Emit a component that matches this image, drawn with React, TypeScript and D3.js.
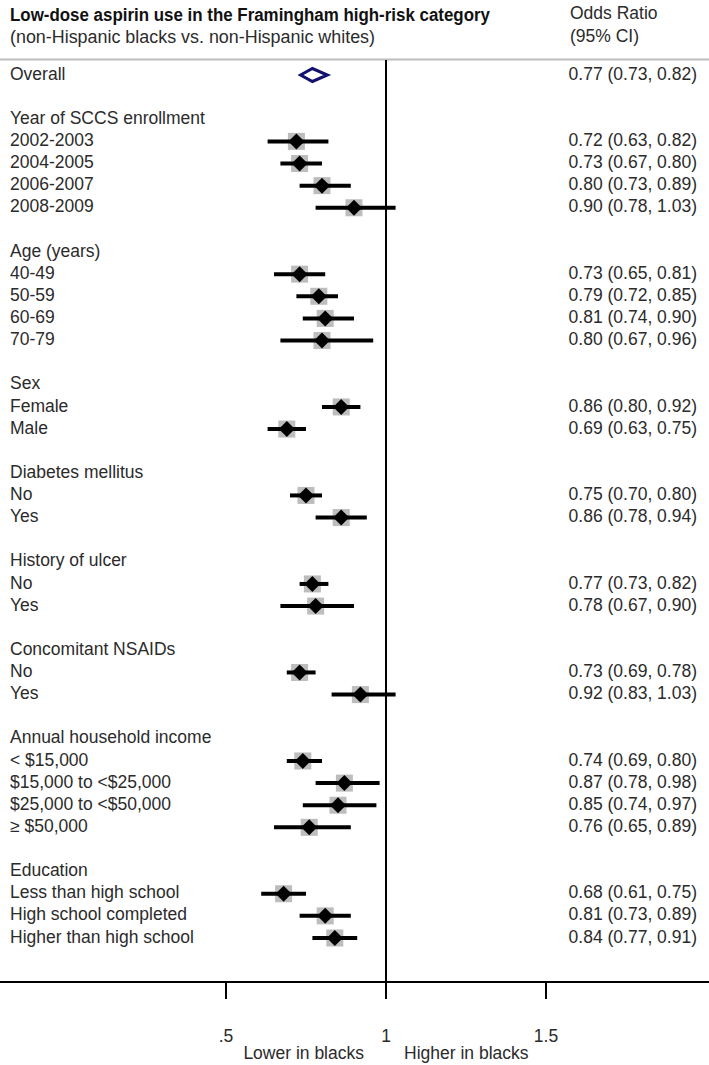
import React from "react";
import * as d3 from "d3";

const labels = [
  "Overall", "",
  "Year of SCCS enrollment", "2002-2003", "2004-2005", "2006-2007", "2008-2009", "",
  "Age (years)", "40-49", "50-59", "60-69", "70-79", "",
  "Sex", "Female", "Male", "",
  "Diabetes mellitus", "No", "Yes", "",
  "History of ulcer", "No", "Yes", "",
  "Concomitant NSAIDs", "No", "Yes", "",
  "Annual household income", "< $15,000", "$15,000 to <$25,000", "$25,000 to <$50,000", "\u2265 $50,000", "",
  "Education", "Less than high school", "High school completed", "Higher than high school",
];
const or: (number | null)[] = [
  0.77, null,
  null, 0.72, 0.73, 0.80, 0.90, null,
  null, 0.73, 0.79, 0.81, 0.80, null,
  null, 0.86, 0.69, null,
  null, 0.75, 0.86, null,
  null, 0.77, 0.78, null,
  null, 0.73, 0.92, null,
  null, 0.74, 0.87, 0.85, 0.76, null,
  null, 0.68, 0.81, 0.84,
];
const lo: (number | null)[] = [
  0.73, null,
  null, 0.63, 0.67, 0.73, 0.78, null,
  null, 0.65, 0.72, 0.74, 0.67, null,
  null, 0.80, 0.63, null,
  null, 0.70, 0.78, null,
  null, 0.73, 0.67, null,
  null, 0.69, 0.83, null,
  null, 0.69, 0.78, 0.74, 0.65, null,
  null, 0.61, 0.73, 0.77,
];
const hi: (number | null)[] = [
  0.82, null,
  null, 0.82, 0.80, 0.89, 1.03, null,
  null, 0.81, 0.85, 0.90, 0.96, null,
  null, 0.92, 0.75, null,
  null, 0.80, 0.94, null,
  null, 0.82, 0.90, null,
  null, 0.78, 1.03, null,
  null, 0.80, 0.98, 0.97, 0.89, null,
  null, 0.75, 0.89, 0.91,
];
const xTicks = [0.5, 1, 1.5];
const xTickLabels = [".5", "1", "1.5"];

const W = 709;
const H = 1065;
const FONT = "'Liberation Sans', Arial, sans-serif";
const FS = 17.5;

export default function App() {
  const x = d3.scaleLinear().domain([0.5, 1.5]).range([226, 546]);
  const y = d3.scaleLinear().domain([0, labels.length - 1]).range([75, 938]);
  const axisY = 982;
  const fmt = d3.format(".2f");
  const txt = "#2b2b2b";

  return (
    <svg width={W} height={H} style={{ position: "absolute", left: 0, top: 0, background: "#fff" }} fontFamily={FONT}>
      <rect x={0} y={0} width={W} height={H} fill="#fff" />
      {/* header */}
      <text x={10} y={16} fontSize={17.5} fontWeight="bold" fill="#111" dominantBaseline="middle" textLength={480} lengthAdjust="spacingAndGlyphs">
        Low-dose aspirin use in the Framingham high-risk category
      </text>
      <text x={10} y={38} fontSize={FS} fill={txt} dominantBaseline="middle" textLength={365} lengthAdjust="spacingAndGlyphs">
        (non-Hispanic blacks vs. non-Hispanic whites)
      </text>
      <text x={570} y={14} fontSize={FS} fill={txt} dominantBaseline="middle">Odds Ratio</text>
      <text x={570} y={37} fontSize={FS} fill={txt} dominantBaseline="middle">(95% CI)</text>
      <line x1={0} x2={W} y1={59.5} y2={59.5} stroke="#bdbdbd" strokeWidth={2} />

      {/* reference line */}
      <line x1={x(1)} x2={x(1)} y1={60} y2={axisY} stroke="#000" strokeWidth={2} />

      {labels.map((lab, i) => {
        if (lab === "") return null;
        const yy = y(i);
        return (
          <g key={i}>
            <text x={10} y={yy} fontSize={FS} fill={txt} dominantBaseline="middle">{lab}</text>
            {or[i] !== null && (
              <text x={697} y={yy} fontSize={FS} fill={txt} dominantBaseline="middle" textAnchor="end">
                {`${fmt(or[i] as number)} (${fmt(lo[i] as number)}, ${fmt(hi[i] as number)})`}
              </text>
            )}
          </g>
        );
      })}

      {/* estimates */}
      {labels.map((lab, i) => {
        if (or[i] === null || i === 0) return null;
        const yy = y(i);
        const cx = x(or[i] as number);
        const s = 17;
        const d = 8;
        return (
          <g key={"m" + i}>
            <rect x={cx - s / 2} y={yy - s / 2} width={s} height={s} fill="#bdbdbd" />
            <line x1={x(lo[i] as number)} x2={x(hi[i] as number)} y1={yy} y2={yy} stroke="#000" strokeWidth={4} />
            <path d={`M${cx - d},${yy} L${cx},${yy - d} L${cx + d},${yy} L${cx},${yy + d} Z`} fill="#000" />
          </g>
        );
      })}

      {/* overall diamond */}
      {(() => {
        const yy = y(0);
        const l = x(lo[0] as number);
        const r = x(hi[0] as number);
        const c = x(or[0] as number);
        return (
          <path d={`M${l + 1},${yy} L${c},${yy - 6.5} L${r - 1},${yy} L${c},${yy + 6.5} Z`} fill="none" stroke="#12126e" strokeWidth={3} strokeLinejoin="miter" />
        );
      })()}

      {/* axis */}
      <line x1={0} x2={W} y1={axisY} y2={axisY} stroke="#000" strokeWidth={2} />
      {xTicks.map((t, i) => (
        <g key={"t" + i}>
          <line x1={x(t)} x2={x(t)} y1={axisY} y2={axisY + 17} stroke="#000" strokeWidth={2} />
          <text x={x(t)} y={1037} fontSize={FS} fill={txt} textAnchor="middle" dominantBaseline="middle">{xTickLabels[i]}</text>
        </g>
      ))}
      <text x={x(1) - 22} y={1054} fontSize={FS} fill={txt} textAnchor="end" dominantBaseline="middle">Lower in blacks</text>
      <text x={x(1) + 18} y={1054} fontSize={FS} fill={txt} textAnchor="start" dominantBaseline="middle">Higher in blacks</text>
    </svg>
  );
}
